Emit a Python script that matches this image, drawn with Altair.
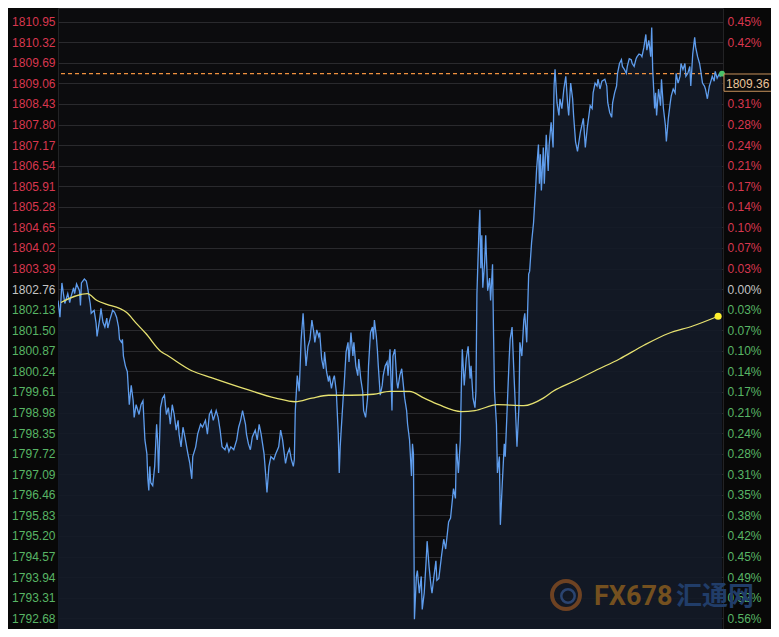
import json
import altair as alt
import pandas as pd

# ---------------- data ----------------
price_t = [
    0, 2, 4, 7, 10, 12, 13, 16, 17, 19,
    22, 23, 24, 27, 29, 30, 32, 33, 34, 37,
    39, 40, 43, 44, 46, 48, 50, 51, 53, 56,
    58, 60, 62, 63, 65, 66, 67, 69, 71, 73,
    75, 77, 78, 80, 83, 85, 87, 88, 89, 91,
    92, 93, 94, 95, 97, 99, 101, 102, 103, 105,
    107, 109, 111, 113, 115, 117, 119, 121, 123, 124,
    126, 128, 130, 133, 135, 137, 138, 141, 143, 146,
    148, 151, 153, 155, 157, 159, 162, 164, 166, 168,
    171, 173, 175, 177, 180, 183, 185, 187, 189, 192,
    193, 195, 197, 199, 202, 204, 206, 208, 211, 213,
    214, 216, 218, 221, 223, 226, 228, 230, 233, 235,
    237, 239, 241, 242, 243, 245, 247, 249, 251, 253,
    254, 256, 258, 260, 262, 263, 265, 267, 268, 270,
    272, 273, 275, 277, 278, 280, 282, 283, 285, 287,
    288, 289, 290, 292, 293, 295, 297, 298, 300, 302,
    303, 305, 307, 308, 310, 312, 313, 315, 317, 318,
    320, 322, 323, 324, 326, 327, 328, 330, 332, 333,
    335, 337, 338, 340, 342, 343, 345, 347, 348, 350,
    352, 353, 355, 357, 358, 360, 362, 363, 364, 365,
    367, 368, 370, 372, 373, 375, 377, 378, 380, 382,
    383, 385, 387, 388, 390, 393, 395, 397, 400, 402,
    405, 407, 408, 410, 412, 413, 414, 416, 418, 420,
    422, 423, 425, 427, 428, 429, 431, 432, 433, 434,
    435, 437, 438, 440, 442, 443, 445, 446, 447, 449,
    450, 452, 453, 455, 457, 458, 460, 462, 463, 465,
    467, 468, 470, 472, 473, 475, 477, 478, 480, 482,
    483, 485, 487, 488, 489, 490, 492, 493, 494, 495,
    497, 498, 500, 502, 503, 505, 507, 508, 509, 511,
    513, 514, 516, 518, 520, 522, 523, 525, 527, 528,
    530, 532, 535, 538, 540, 542, 545, 547, 548, 550,
    552, 553, 555, 557, 560, 562, 563, 565, 567, 568,
    570, 572, 573, 575, 577, 578, 580, 582, 583, 585,
    587, 588, 590, 592, 593, 595, 597, 598, 600, 602,
    603, 605, 607, 608, 609, 611, 612, 613, 615, 617,
    618, 620, 622, 623, 625, 627, 628, 630, 632, 633,
    635, 637, 638, 640, 642, 643, 645, 647, 648, 650,
    652, 653, 655, 657, 658, 660, 662, 663, 665, 667,
    668, 670, 672, 673, 675, 677, 678, 680,
]
price_v = [
    1802.41, 1801.90, 1802.95, 1802.32, 1802.62, 1802.35, 1802.50, 1802.80, 1802.62, 1802.92,
    1802.71, 1802.26, 1802.95, 1803.07, 1803.01, 1802.86, 1802.50, 1802.32, 1802.02, 1802.11,
    1801.72, 1801.31, 1801.90, 1802.17, 1801.75, 1801.60, 1801.87, 1801.57, 1801.81, 1802.11,
    1802.05, 1801.90, 1801.60, 1801.22, 1801.13, 1801.22, 1800.71, 1800.41, 1800.23, 1799.22,
    1799.81, 1799.34, 1798.83, 1799.22, 1798.92, 1799.22, 1799.34, 1798.74, 1798.14, 1797.72,
    1796.95, 1796.59, 1797.33, 1796.83, 1796.74, 1797.33, 1798.62, 1798.14, 1797.13, 1799.13,
    1799.42, 1799.51, 1798.92, 1799.13, 1798.62, 1799.22, 1798.92, 1798.44, 1798.74, 1798.32,
    1797.93, 1798.53, 1798.23, 1797.72, 1797.42, 1796.95, 1797.63, 1797.93, 1798.32, 1798.62,
    1798.53, 1798.74, 1798.32, 1798.92, 1799.04, 1798.74, 1799.04, 1798.83, 1798.44, 1797.93,
    1797.84, 1798.02, 1797.78, 1797.93, 1797.84, 1798.14, 1798.53, 1798.74, 1799.04, 1798.62,
    1798.32, 1798.02, 1797.84, 1798.23, 1798.44, 1798.14, 1798.62, 1798.32, 1797.72, 1796.95,
    1796.53, 1797.33, 1797.63, 1797.54, 1797.72, 1797.93, 1798.44, 1798.14, 1797.42, 1797.72,
    1797.87, 1797.54, 1797.33, 1797.54, 1799.04, 1800.11, 1799.63, 1801.22, 1802.02, 1800.92,
    1800.41, 1801.01, 1801.22, 1801.81, 1801.43, 1801.13, 1801.51, 1801.31, 1801.43, 1800.62,
    1800.32, 1800.83, 1800.23, 1799.93, 1800.11, 1799.72, 1800.02, 1800.11, 1799.63, 1798.32,
    1797.13, 1797.93, 1798.44, 1799.42, 1799.81, 1800.83, 1801.13, 1800.53, 1801.43, 1800.71,
    1801.13, 1800.41, 1800.11, 1800.62, 1800.02, 1799.63, 1799.04, 1798.83, 1799.42, 1800.41,
    1801.43, 1801.60, 1801.22, 1801.81, 1801.31, 1800.92, 1800.41, 1799.51, 1799.81, 1800.11,
    1800.41, 1800.53, 1800.11, 1800.92, 1799.04, 1800.71, 1800.92, 1799.93, 1799.72, 1800.11,
    1800.32, 1800.02, 1799.42, 1799.04, 1798.62, 1798.14, 1797.04, 1798.02, 1797.72, 1792.65,
    1793.96, 1794.14, 1793.45, 1793.96, 1792.95, 1793.45, 1794.44, 1795.04, 1794.26, 1793.66,
    1793.45, 1793.96, 1794.44, 1793.84, 1793.90, 1794.65, 1795.10, 1794.80, 1795.63, 1795.75,
    1796.65, 1796.35, 1798.02, 1797.13, 1798.14, 1799.72, 1800.92, 1799.81, 1800.62, 1801.01,
    1800.02, 1800.41, 1799.42, 1799.13, 1799.63, 1802.62, 1804.50, 1805.19, 1803.40, 1804.41,
    1802.80, 1803.61, 1804.41, 1802.71, 1803.10, 1802.41, 1803.52, 1801.43, 1799.63, 1798.62,
    1797.13, 1797.63, 1795.54, 1796.83, 1798.02, 1797.63, 1799.13, 1800.62, 1801.22, 1801.60,
    1800.11, 1799.42, 1797.93, 1799.13, 1801.13, 1800.71, 1801.81, 1802.02, 1801.13, 1803.22,
    1803.31, 1804.20, 1804.80, 1805.31, 1805.78, 1806.38, 1807.19, 1805.99, 1806.89, 1805.78,
    1807.10, 1805.99, 1807.49, 1806.38, 1807.19, 1807.87, 1807.10, 1808.98, 1809.49, 1808.47,
    1808.08, 1808.59, 1808.29, 1808.89, 1809.28, 1808.38, 1808.08, 1809.07, 1808.59, 1808.08,
    1807.28, 1806.98, 1807.58, 1807.99, 1807.10, 1807.70, 1808.38, 1808.29, 1808.77, 1809.07,
    1808.98, 1809.19, 1808.89, 1809.13, 1809.19, 1808.98, 1808.47, 1808.17, 1808.02, 1808.47,
    1808.77, 1808.98, 1809.37, 1809.67, 1809.79, 1809.58, 1809.49, 1809.37, 1809.58, 1809.82,
    1809.79, 1809.67, 1809.58, 1809.82, 1809.88, 1809.96, 1809.93, 1809.88, 1810.17, 1810.56,
    1810.08, 1810.38, 1809.88, 1810.77, 1809.49, 1808.29, 1808.77, 1808.08, 1808.89, 1808.38,
    1809.19, 1808.29, 1807.78, 1807.28, 1807.99, 1808.47, 1808.68, 1808.89, 1808.77, 1809.37,
    1809.07, 1809.28, 1809.67, 1809.49, 1809.67, 1809.28, 1809.37, 1809.58, 1808.98, 1809.96,
    1810.47, 1810.17, 1809.88, 1809.67, 1809.49, 1809.07, 1808.98, 1808.89, 1808.59, 1808.98,
    1809.07, 1809.28, 1809.13, 1809.43, 1809.22, 1809.34, 1809.28, 1809.36,
]

ma_t = [3, 30, 40, 50, 63, 70, 80, 90, 105, 113, 137, 157, 190, 223, 243, 260, 277, 300,
        323, 340, 360, 375, 390, 413, 427, 450, 477, 497, 507, 530, 550, 575, 600, 625, 650, 676]
ma_v = [1802.35, 1802.62, 1802.41, 1802.29, 1802.17, 1802.05, 1801.72, 1801.40, 1800.86, 1800.71,
        1800.26, 1800.05, 1799.72, 1799.42, 1799.31, 1799.42, 1799.51, 1799.51, 1799.54, 1799.63,
        1799.63, 1799.42, 1799.22, 1799.01, 1799.04, 1799.22, 1799.19, 1799.42, 1799.63, 1799.96,
        1800.26, 1800.62, 1801.04, 1801.40, 1801.63, 1801.93]

ref_price = 1802.76
last_price = 1809.36

price_ticks = [1810.95, 1810.32, 1809.69, 1809.06, 1808.43, 1807.80, 1807.17, 1806.54,
               1805.91, 1805.28, 1804.65, 1804.02, 1803.39, 1802.76, 1802.13, 1801.50,
               1800.87, 1800.24, 1799.61, 1798.98, 1798.35, 1797.72, 1797.09, 1796.46,
               1795.83, 1795.20, 1794.57, 1793.94, 1793.31, 1792.68]
pct_labels = ["0.45%", "0.42%", "0.38%", "0.35%", "0.31%", "0.28%", "0.24%", "0.21%",
              "0.17%", "0.14%", "0.10%", "0.07%", "0.03%", "0.00%", "0.03%", "0.07%",
              "0.10%", "0.14%", "0.17%", "0.21%", "0.24%", "0.28%", "0.31%", "0.35%",
              "0.38%", "0.42%", "0.45%", "0.49%", "0.52%", "0.56%"]

time_grid = [0, 44.5, 89, 133.5, 178, 222.5, 267, 311.5, 356, 400.5, 445, 489.5,
             534, 578.5, 623, 667.5]

# ---------------- styling ----------------
W, H = 665, 621
RED, GREEN, GREY = "#d8374f", "#58b565", "#c4c4c4"
BLUE = "#5f9ded"
YELLOW_LINE = "#e6e170"
ORANGE = "#f0913f"
FONT = "Liberation Sans"

price_df = pd.DataFrame({"t": price_t, "v": price_v})
ma_df = pd.DataFrame({"t": ma_t, "v": ma_v})
last_df = pd.DataFrame({"t": [price_t[-1]], "v": [last_price]})
ma_end_df = pd.DataFrame({"t": [ma_t[-1]], "v": [ma_v[-1]]})
one = pd.DataFrame({"a": [0]})

xscale = alt.Scale(domain=[0, 681], nice=False, zero=False)
yscale = alt.Scale(domain=[1792.35, 1811.37], nice=False, zero=False)

label_color = {
    "condition": [
        {"test": f"datum.value > {ref_price + 0.005}", "value": RED},
        {"test": f"datum.value < {ref_price - 0.005}", "value": GREEN},
    ],
    "value": GREY,
}

x_axis = alt.Axis(values=time_grid, labels=False, ticks=False, domain=False, grid=True,
                  title=None,
                  gridColor=alt.condition("datum.value % 89 == 0", alt.value("#2e2e30"), alt.value("#1f1f22")),
                  gridDash=alt.condition("datum.value % 89 == 0", alt.value([]), alt.value([2, 2])))
left_axis = alt.Axis(orient="left", values=price_ticks, format=".2f", title=None,
                     grid=True, gridColor="#2a2a2d", ticks=False, domain=False,
                     labelPadding=3, labelColor=label_color, labelFont=FONT, labelFontSize=12)
# the percentage label that sits under the last-price tag is hidden by it
pct_expr = (f"abs(datum.value - {last_price}) < 0.45 ? '' : "
            + json.dumps(pct_labels) + f"[round(({price_ticks[0]} - datum.value) / 0.63)]")
right_axis = alt.Axis(orient="right", values=price_ticks, labelExpr=pct_expr, title=None,
                      grid=False, ticks=False, domain=False, labelPadding=4, zindex=0,
                      labelColor=label_color, labelFont=FONT, labelFontSize=12)

X = alt.X("t:Q", scale=xscale, axis=x_axis)
Xn = alt.X("t:Q", scale=xscale, axis=None)
Yn = alt.Y("v:Q", scale=yscale, axis=None)

area = alt.Chart(price_df).mark_area(color="#131a27", opacity=0.9, clip=True).encode(
    x=X, y=alt.Y("v:Q", scale=yscale, axis=left_axis))

# watermark
logo_outer = alt.Chart(one).mark_point(shape="circle", size=780, filled=False, stroke="#6e4222",
                                       strokeWidth=4, opacity=1).encode(
    x=alt.value(508), y=alt.value(587))
logo_inner = alt.Chart(one).mark_point(shape="circle", size=180, filled=False, stroke="#2b4470",
                                       strokeWidth=2.5, opacity=1).encode(
    x=alt.value(510), y=alt.value(588))
wm_fx = alt.Chart(one).mark_text(text="FX678", font="Roboto", fontWeight="bold",
                                 fontSize=27, color="#74501f", align="left", baseline="alphabetic").encode(
    x=alt.value(536), y=alt.value(597))
wm_cn = alt.Chart(one).mark_text(text="汇通网", font="Noto Sans CJK SC", fontWeight="bold",
                                 fontSize=26, color="#213d69", align="left", baseline="alphabetic").encode(
    x=alt.value(618), y=alt.value(597))

last_rule = alt.Chart(last_df).mark_rule(color=ORANGE, strokeDash=[4, 3], strokeWidth=1.2).encode(y=Yn)

line = alt.Chart(price_df).mark_line(color=BLUE, strokeWidth=1.3, clip=True).encode(x=Xn, y=Yn)
ma = alt.Chart(ma_df).mark_line(color=YELLOW_LINE, strokeWidth=1.3, interpolate="monotone").encode(
    x=Xn, y=alt.Y("v:Q", scale=yscale, axis=right_axis))

ma_dot = alt.Chart(ma_end_df).mark_point(shape="circle", filled=True, size=50, color="#fff02e",
                                         opacity=1).encode(x=Xn, y=Yn)
last_dot = alt.Chart(last_df).mark_point(shape="circle", filled=True, size=34, color="#49c26a",
                                         opacity=1).encode(x=Xn, y=Yn)

# price tag hangs just below the dashed line
box = alt.Chart(last_df).mark_point(shape="M-1,-0.36L1,-0.36L1,0.36L-1,0.36Z", size=48 * 48,
                                    filled=True, fill="#0a0a0a", stroke="#c8925c", strokeWidth=1,
                                    opacity=1, yOffset=9).encode(x=alt.value(W + 25), y=Yn)
box_text = alt.Chart(last_df).mark_text(align="left", baseline="middle", font=FONT, fontSize=12,
                                        color="#e9c39a", dy=10).encode(
    x=alt.value(W + 3), y=Yn, text=alt.Text("v:Q", format=".2f"))

chart = alt.layer(
    area, logo_outer, logo_inner, wm_fx, wm_cn, last_rule, line, ma, ma_dot, last_dot, box, box_text
).resolve_axis(y="independent").properties(
    width=W, height=H,
    padding={"left": 50, "right": 48, "top": 0, "bottom": 0},
    autosize=alt.AutoSizeParams(type="none"),
).configure(background="#080808").configure_view(stroke="#232325", fill="#0c0c0e")

chart.save("out.html", embed_options={"renderer": "svg", "actions": False})
